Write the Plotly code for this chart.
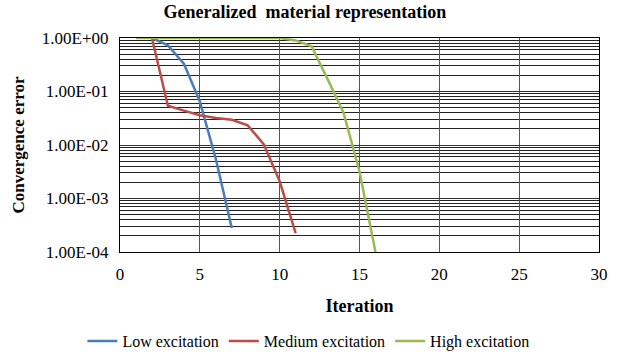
import plotly.graph_objects as go

low_x = [2, 3, 4, 5, 6, 7]
low_y = [1.0, 0.73, 0.33, 0.065, 0.0055, 0.00028]

med_x = [2, 3, 4, 5, 6, 7, 8, 9, 10, 11]
med_y = [1.0, 0.054, 0.044, 0.036, 0.032, 0.0297, 0.0233, 0.0104, 0.0021, 0.000226]

high_x = [1, 2, 3, 4, 5, 6, 7, 8, 9, 10, 11, 12, 13, 14, 15, 16]
high_y = [1.0, 1.0, 1.0, 1.0, 1.0, 1.0, 1.0, 1.0, 1.0, 1.0, 0.9, 0.7, 0.17, 0.04, 0.0032, 0.0001]

y_tickvals = [1, 0.1, 0.01, 0.001, 0.0001]
y_ticktext = ["1.00E+00", "1.00E-01", "1.00E-02", "1.00E-03", "1.00E-04"]
x_tickvals = [0, 5, 10, 15, 20, 25, 30]

minor_vals = [k * 10.0 ** e for e in range(-4, 0) for k in range(2, 10)]

font_family = "Liberation Serif, Times New Roman, serif"

W, H = 623, 356

fig = go.Figure()
fig.add_trace(go.Scatter(x=low_x, y=low_y, mode="lines", name="Low excitation",
                         line=dict(color="#4A7EBB", width=2.5)))
fig.add_trace(go.Scatter(x=med_x, y=med_y, mode="lines", name="Medium excitation",
                         line=dict(color="#BE4B48", width=2.5)))
fig.add_trace(go.Scatter(x=high_x, y=high_y, mode="lines", name="High excitation",
                         line=dict(color="#98B954", width=2.5)))

fig.update_layout(
    width=W, height=H,
    margin=dict(l=120, r=24, t=38, b=104, autoexpand=False),
    paper_bgcolor="white", plot_bgcolor="white",
    font=dict(family=font_family, size=16, color="black"),
    title=dict(text="<b>Generalized  material representation</b>", x=305 / W, xanchor="center",
               y=1 - 12 / H, yanchor="middle", font=dict(size=18, family=font_family)),
    legend=dict(orientation="h", xref="container", yref="container",
                x=0.495, xanchor="center", y=1 - 341 / H, yanchor="middle",
                font=dict(size=16, family=font_family), tracegroupgap=0),
    showlegend=True,
)

fig.update_xaxes(
    range=[0, 30], tickvals=x_tickvals, showgrid=True, gridcolor="#555", gridwidth=1,
    showline=True, linecolor="black", linewidth=1, mirror=True, ticks="",
    ticklabelstandoff=7, automargin=False,
    title=dict(text="<b>Iteration</b>", font=dict(size=18, family=font_family), standoff=15),
    tickfont=dict(size=17), zeroline=False,
)
fig.update_yaxes(
    type="log", range=[-4, 0], tickvals=y_tickvals, ticktext=y_ticktext,
    showgrid=True, gridcolor="#333", gridwidth=1,
    minor=dict(tickvals=minor_vals, showgrid=True, gridcolor="#222", gridwidth=1, ticks=""),
    showline=True, linecolor="black", linewidth=1, mirror=True, ticks="",
    ticklabelstandoff=7, automargin=False,
    title=dict(text="<b>Convergence error</b>", font=dict(size=17, family=font_family), standoff=12),
    tickfont=dict(size=17), zeroline=False,
)

fig.write_html("out.html", config={"displayModeBar": False},
               post_script="document.body.style.margin='0px';")
